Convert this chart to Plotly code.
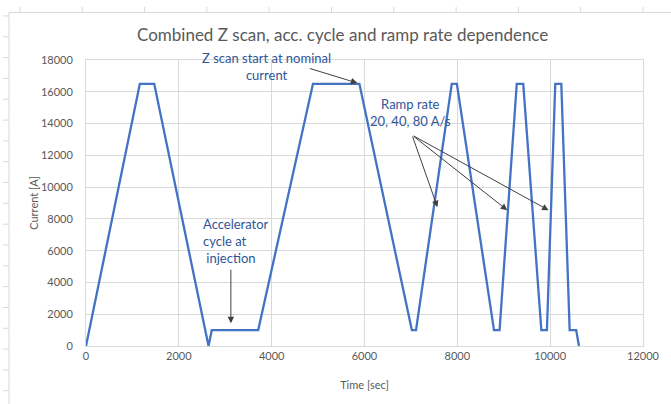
import plotly.graph_objects as go

# Data
time_s = [0, 1160, 1470, 2640, 2710, 3710, 4890, 5890, 7020, 7110, 7880, 7990,
          8790, 8910, 9280, 9420, 9810, 9930, 10110, 10240, 10420, 10560, 10620]
current_a = [0, 16500, 16500, 0, 1000, 1000, 16500, 16500, 1000, 1000, 16500, 16500,
             1000, 1000, 16500, 16500, 1000, 1000, 16500, 16500, 1000, 1000, 0]

x_ticks = [0, 2000, 4000, 6000, 8000, 10000, 12000]
y_ticks = [0, 2000, 4000, 6000, 8000, 10000, 12000, 14000, 16000, 18000]

W, H = 671, 404
L, R, T, B = 86, 643, 60, 345.7

def px(x):
    return (x - L) / (R - L)

def py(y):
    return (B - y) / (B - T)

FONT = "Lato"
GRID = "#d9d9d9"
TXT = "#595959"
ANN = "#2f5597"
ARR = "#404040"

fig = go.Figure()
fig.add_trace(go.Scatter(x=time_s, y=current_a, mode="lines",
                         line=dict(color="#4472c4", width=2.3), hoverinfo="skip",
                         showlegend=False))

annotations = [
    dict(text="Combined Z scan, acc. cycle and ramp rate dependence", x=px(342), y=py(35),
         xref="paper", yref="paper", yanchor="middle", showarrow=False,
         font=dict(size=17, color=TXT, family=FONT)),
    dict(text="Z scan start at nominal<br>current", x=3883, y=17590, xref="x", yref="y",
         showarrow=False, font=dict(size=13, color=ANN, family=FONT)),
    dict(text="Accelerator<br>cycle at<br>&nbsp;injection", x=2480, y=6628, xref="x", yref="y",
         xanchor="left", align="left", showarrow=False, font=dict(size=13, color=ANN, family=FONT)),
    dict(text="Ramp rate<br>20, 40, 80 A/s", x=6989, y=14722, xref="x", yref="y",
         showarrow=False, font=dict(size=13, color=ANN, family=FONT)),
]

arrows = [
    (4789, 17495, 5846, 16550),
    (3121, 4895, 3121, 1430),
    (7025, 13274, 7571, 8738),
    (7025, 13274, 9075, 8549),
    (7025, 13274, 9965, 8549),
]
for x0, y0, x1, y1 in arrows:
    annotations.append(dict(x=x1, y=y1, ax=x0, ay=y0, xref="x", yref="y", axref="x", ayref="y",
                            text="", showarrow=True, arrowhead=2, arrowsize=1.3, arrowwidth=1,
                            arrowcolor=ARR, standoff=0))

shapes = []
# outer worksheet frame lines
shapes.append(dict(type="line", xref="paper", yref="paper", x0=px(9), x1=px(671), y0=py(12.5), y1=py(12.5),
                   line=dict(color=GRID, width=1)))
shapes.append(dict(type="line", xref="paper", yref="paper", x0=px(9), x1=px(9), y0=py(12.5), y1=py(404),
                   line=dict(color=GRID, width=1)))
for k in range(11):
    xx = 20 + k * 62.3
    shapes.append(dict(type="line", xref="paper", yref="paper", x0=px(xx), x1=px(xx), y0=py(7), y1=py(12.5),
                       line=dict(color=GRID, width=1)))
for k in range(19):
    yy = 16 + k * 20.8
    if yy > 404:
        break
    shapes.append(dict(type="line", xref="paper", yref="paper", x0=px(3), x1=px(9), y0=py(yy), y1=py(yy),
                       line=dict(color=GRID, width=1)))

fig.update_layout(
    width=W, height=H, autosize=False,
    margin=dict(l=L, r=W - R, t=T, b=H - B, pad=0),
    paper_bgcolor="white", plot_bgcolor="white",
    font=dict(family=FONT, color=TXT, size=11),
    annotations=annotations, shapes=shapes,
)
fig.update_xaxes(range=[0, 12000], tickvals=x_ticks, ticktext=[str(v) for v in x_ticks],
                 showgrid=True, gridcolor=GRID, gridwidth=1, zeroline=False,
                 showline=True, linecolor=GRID, linewidth=1, mirror=True,
                 ticks="", tickfont=dict(size=11, color=TXT, family=FONT),
                 title=dict(text="Time [sec]", font=dict(size=11, color=TXT, family=FONT), standoff=20))
fig.update_yaxes(range=[0, 18000], tickvals=y_ticks, ticktext=[str(v) for v in y_ticks],
                 showgrid=True, gridcolor=GRID, gridwidth=1, zeroline=False,
                 showline=True, linecolor=GRID, linewidth=1, mirror=True,
                 ticks="", ticklabelstandoff=10, tickfont=dict(size=11, color=TXT, family=FONT),
                 title=dict(text="Current [A]", font=dict(size=11, color=TXT, family=FONT), standoff=0))

fig.write_html("out.html", config={"displayModeBar": False},
               post_script="document.body.style.margin='0';document.body.style.overflow='hidden';")
